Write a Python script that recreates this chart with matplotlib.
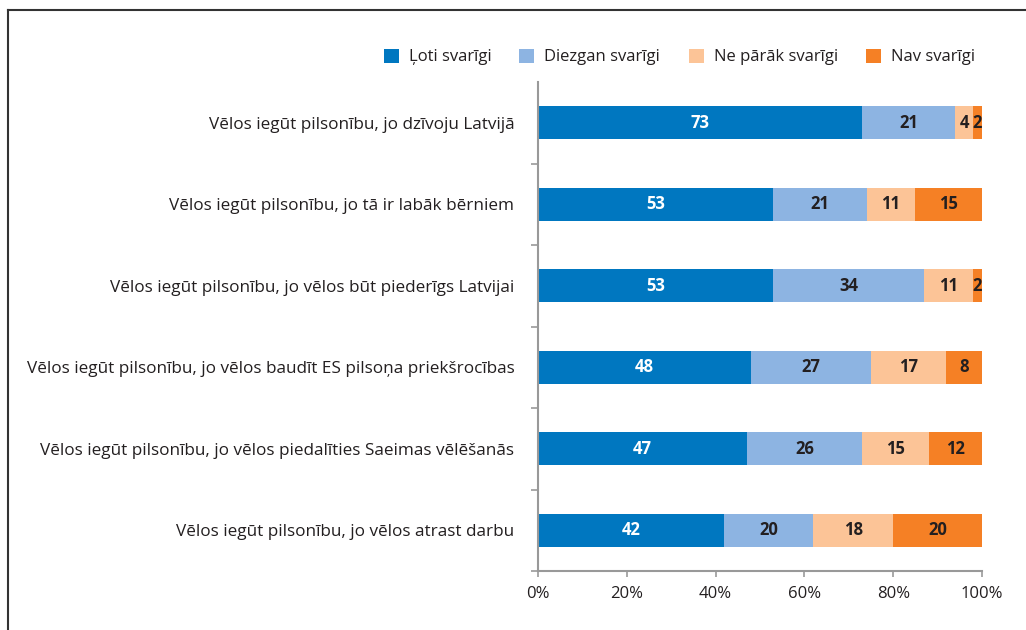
import matplotlib
matplotlib.use("Agg")
import matplotlib.pyplot as plt
from matplotlib.lines import Line2D
import numpy as np

plt.rcParams["font.family"] = ["Open Sans", "DejaVu Sans"]

categories = [
    "Vēlos iegūt pilsonību, jo dzīvoju Latvijā",
    "Vēlos iegūt pilsonību, jo tā ir labāk bērniem",
    "Vēlos iegūt pilsonību, jo vēlos būt piederīgs Latvijai",
    "Vēlos iegūt pilsonību, jo vēlos baudīt ES pilsoņa priekšrocības",
    "Vēlos iegūt pilsonību, jo vēlos piedalīties Saeimas vēlēšanās",
    "Vēlos iegūt pilsonību, jo vēlos atrast darbu",
]
series_names = ["Ļoti svarīgi", "Diezgan svarīgi", "Ne pārāk svarīgi", "Nav svarīgi"]
loti = [73, 53, 53, 48, 47, 42]
diezgan = [21, 21, 34, 27, 26, 20]
ne_parak = [4, 11, 11, 17, 15, 18]
nav = [2, 15, 2, 8, 12, 20]
colors = ["#0077C0", "#8DB4E2", "#FCC497", "#F58025"]
text_colors = ["white", "#231F20", "#231F20", "#231F20"]

fig = plt.figure(figsize=(10.26, 6.3), dpi=100)
ax = fig.add_axes([538 / 1026, 1 - 571 / 630, 444 / 1026, 489 / 630])

y = np.arange(len(categories))
left = np.zeros(len(categories))
for name, vals, col, tcol in zip(series_names, [loti, diezgan, ne_parak, nav], colors, text_colors):
    vals = np.array(vals, dtype=float)
    ax.barh(y, vals, left=left, height=0.41, color=col, label=name)
    for yi, l, v in zip(y, left, vals):
        ax.text(l + v / 2, yi, f"{int(v)}", ha="center", va="center",
                color=tcol, fontsize=12, fontweight="bold")
    left += vals

ax.set_xlim(0, 100)
ax.set_ylim(len(categories) - 0.5, -0.5)
ax.set_xticks(np.arange(0, 101, 20))
ax.set_xticklabels([f"{v}%" for v in range(0, 101, 20)])
ax.set_yticks(y)
ax.set_yticklabels(categories)
ax.set_yticks(np.arange(-0.5, len(categories), 1)[1:], minor=True)
ax.tick_params(axis="y", which="major", length=0, pad=17, labelsize=12.3, labelcolor="#231F20")
ax.tick_params(axis="y", which="minor", length=5, color="#999999", width=1.2)
ax.tick_params(axis="x", length=4, color="#999999", width=1.2, labelsize=12,
               labelcolor="#231F20", pad=7)
for s in ["top", "right"]:
    ax.spines[s].set_visible(False)
for s in ["left", "bottom"]:
    ax.spines[s].set_color("#999999")
    ax.spines[s].set_linewidth(1.5)

handles, labels = ax.get_legend_handles_labels()
fig.legend(handles, labels, loc="center right", bbox_to_anchor=(990 / 1026, 1 - 57 / 630),
           ncol=4, frameon=False, fontsize=12, handlelength=0.9, handleheight=0.9,
           handletextpad=0.6, columnspacing=1.7, labelcolor="#231F20")

# outer frame
fig.add_artist(Line2D([8 / 1026, 8 / 1026], [0, 1 - 10 / 630], transform=fig.transFigure,
                      color="#333333", lw=1.5))
fig.add_artist(Line2D([8 / 1026, 1], [1 - 10 / 630, 1 - 10 / 630], transform=fig.transFigure,
                      color="#333333", lw=1.5))

fig.savefig("out.png", dpi=100)
